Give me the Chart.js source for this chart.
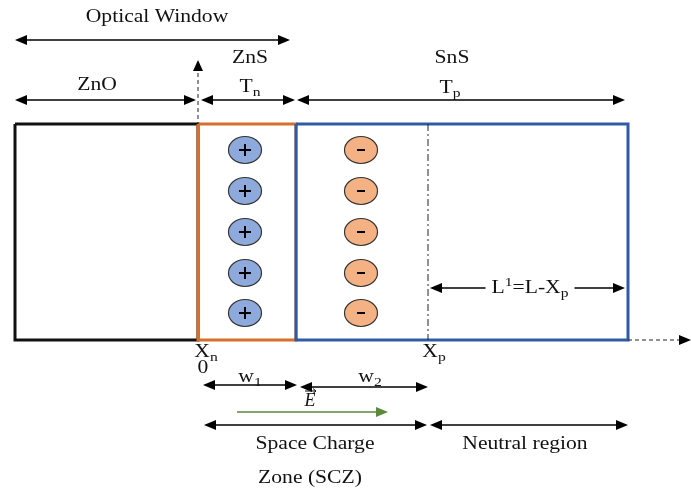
<!DOCTYPE html>
<html>
<head>
<meta charset="utf-8">
<script src="https://cdn.jsdelivr.net/npm/chart.js@4.4.0/dist/chart.umd.min.js"></script>
<style>
  html, body { margin: 0; padding: 0; background: #fff; }
  #wrap { width: 691px; height: 490px; }
</style>
</head>
<body>
<div id="wrap"><canvas id="diagram" width="691" height="490"></canvas></div>
<script>
// positions along the device, x = 0 at the ZnO/ZnS interface (Xn)
var layerNames = ["ZnO", "ZnS", "SnS"];
var layerEdges = [-183, 0, 98, 430];
var layerColors = ["#111111", "#d86f2a", "#2f5aa6"];
var xpPos = 230;
var deviceTop = 124;
var deviceBottom = 340;
var chargeRows = [150, 191, 232, 273, 313];
var plusX = 47;
var minusX = 163;

// dimension arrows: [from, to, y, heads, colour]
var arrows = [
  [-183, 92, 40, "both", "#000"],
  [-183, -2, 100, "both", "#000"],
  [3, 97, 100, "both", "#000"],
  [99, 427, 100, "both", "#000"],
  [232, 427, 288, "both", "#000"],
  [5, 99, 385, "both", "#000"],
  [102, 230, 387, "both", "#000"],
  [39, 190, 412, "end", "#5a8a3a"],
  [6, 229, 425, "both", "#000"],
  [232, 430, 425, "both", "#000"]
];

// labels: [x, y, parts]  parts = [text, subscript/superscript]
var labels = [
  [-41, 17, [["Optical Window"]]],
  [52, 58, [["ZnS"]]],
  [254, 58, [["SnS"]]],
  [-101, 85, [["ZnO"]]],
  [52, 87, [["T"], ["n", "sub"]]],
  [252, 88, [["T"], ["p", "sub"]]],
  [332, 288, [["L"], ["1", "sup"], ["=L-X"], ["p", "sub"]]],
  [8, 352, [["X"], ["n", "sub"]]],
  [5, 368, [["0"]]],
  [236, 352, [["X"], ["p", "sub"]]],
  [52, 377, [["w"], ["1", "sub"]]],
  [172, 377, [["w"], ["2", "sub"]]],
  [117, 444, [["Space Charge"]]],
  [327, 444, [["Neutral region"]]],
  [112, 478, [["Zone (SCZ)"]]]
];

var FONT = "Liberation Serif";
var STRETCH = 1.2;

function rect(x0, x1) {
  return [
    { x: x0, y: deviceTop }, { x: x1, y: deviceTop },
    { x: x1, y: deviceBottom }, { x: x0, y: deviceBottom },
    { x: x0, y: deviceTop }
  ];
}

function chargeIcon(fill, sign) {
  var c = document.createElement("canvas");
  c.width = 38; c.height = 32;
  var g = c.getContext("2d");
  g.beginPath();
  g.ellipse(19, 16, 16.5, 13.5, 0, 0, Math.PI * 2);
  g.fillStyle = fill; g.fill();
  g.lineWidth = 1.2; g.strokeStyle = "#333"; g.stroke();
  g.strokeStyle = "#000"; g.lineWidth = 2;
  g.beginPath();
  if (sign === "+") {
    g.moveTo(13, 16); g.lineTo(25, 16);
    g.moveTo(19, 10); g.lineTo(19, 22);
  } else {
    g.moveTo(15, 16); g.lineTo(23, 16);
  }
  g.stroke();
  return c;
}

var datasets = [];
for (var i = 0; i < layerNames.length; i++) {
  datasets.push({
    label: layerNames[i],
    data: rect(layerEdges[i], layerEdges[i + 1]),
    showLine: true, borderColor: layerColors[i], borderWidth: 3,
    pointRadius: 0, fill: false, order: 3 - i
  });
}
datasets.push({
  label: "Xp", data: [{ x: xpPos, y: deviceTop }, { x: xpPos, y: deviceBottom }],
  showLine: true, borderColor: "#222", borderWidth: 1, borderDash: [7, 3, 2, 3], pointRadius: 0
});
datasets.push({
  label: "axis", data: [{ x: layerEdges[3], y: deviceBottom }, { x: 488, y: deviceBottom }],
  showLine: true, borderColor: "#222", borderWidth: 1, borderDash: [4, 3], pointRadius: 0
});
datasets.push({
  label: "interface", data: [{ x: 0, y: 66 }, { x: 0, y: deviceTop }],
  showLine: true, borderColor: "#222", borderWidth: 1, borderDash: [4, 3], pointRadius: 0
});
datasets.push({
  label: "donors", data: chargeRows.map(function (y) { return { x: plusX, y: y }; }),
  pointStyle: chargeIcon("#8eaadc", "+"), pointRadius: 16
});
datasets.push({
  label: "acceptors", data: chargeRows.map(function (y) { return { x: minusX, y: y }; }),
  pointStyle: chargeIcon("#f4b183", "-"), pointRadius: 16
});

function head(ctx, x, y, dir, color) {
  ctx.fillStyle = color;
  ctx.beginPath();
  ctx.moveTo(x, y);
  ctx.lineTo(x - dir * 12, y - 5);
  ctx.lineTo(x - dir * 12, y + 5);
  ctx.closePath();
  ctx.fill();
}

function partsWidth(ctx, parts) {
  var w = 0;
  parts.forEach(function (p) {
    ctx.font = (p[1] ? 13 : 18) + "px '" + FONT + "'";
    w += ctx.measureText(p[0]).width;
  });
  return w;
}

var annotate = {
  id: "annotate",
  afterDatasetsDraw: function (chart) {
    var ctx = chart.ctx, sx = chart.scales.x, sy = chart.scales.y;
    ctx.save();
    arrows.forEach(function (a) {
      var x0 = sx.getPixelForValue(a[0]), x1 = sx.getPixelForValue(a[1]), y = sy.getPixelForValue(a[2]);
      ctx.strokeStyle = a[4]; ctx.lineWidth = 1.5;
      ctx.beginPath(); ctx.moveTo(x0 + (a[3] === "both" ? 5 : 0), y); ctx.lineTo(x1 - 5, y); ctx.stroke();
      head(ctx, x1, y, 1, a[4]);
      if (a[3] === "both") head(ctx, x0, y, -1, a[4]);
    });
    // arrow tips of the interface line and the position axis
    var ix = sx.getPixelForValue(0);
    ctx.fillStyle = "#000";
    ctx.beginPath(); ctx.moveTo(ix, sy.getPixelForValue(60)); ctx.lineTo(ix - 5, sy.getPixelForValue(71)); ctx.lineTo(ix + 5, sy.getPixelForValue(71)); ctx.fill();
    head(ctx, sx.getPixelForValue(493), sy.getPixelForValue(deviceBottom), 1, "#000");

    ctx.textBaseline = "middle";
    ctx.textAlign = "left";
    labels.forEach(function (l) {
      var x = sx.getPixelForValue(l[0]), y = sy.getPixelForValue(l[1]);
      var w = partsWidth(ctx, l[2]);
      if (l[2].length > 2) {
        ctx.fillStyle = "#fff";
        ctx.fillRect(x - w * STRETCH / 2 - 6, y - 10, w * STRETCH + 12, 20);
      }
      ctx.save();
      ctx.translate(x, y);
      ctx.scale(STRETCH, 1);
      var cx = -w / 2;
      l[2].forEach(function (p) {
        ctx.font = (p[1] ? 13 : 18) + "px '" + FONT + "'";
        ctx.fillStyle = "#111";
        var dy = p[1] === "sub" ? 6 : (p[1] === "sup" ? -5 : 0);
        ctx.fillText(p[0], cx, dy);
        cx += ctx.measureText(p[0]).width;
      });
      ctx.restore();
    });
    // field vector symbol
    var ex = sx.getPixelForValue(112), ey = sy.getPixelForValue(401);
    ctx.font = "italic 18px '" + FONT + "'";
    ctx.textAlign = "center";
    ctx.fillStyle = "#111";
    ctx.fillText("E", ex, ey);
    ctx.lineWidth = 1; ctx.strokeStyle = "#111";
    ctx.beginPath(); ctx.moveTo(ex - 5, ey - 10); ctx.lineTo(ex + 6, ey - 10); ctx.stroke();
    ctx.beginPath(); ctx.moveTo(ex + 3, ey - 12.5); ctx.lineTo(ex + 6, ey - 10); ctx.lineTo(ex + 3, ey - 7.5); ctx.stroke();
    ctx.restore();
  }
};

new Chart(document.getElementById("diagram"), {
  type: "scatter",
  data: { datasets: datasets },
  options: {
    responsive: false,
    animation: false,
    layout: { padding: 0, autoPadding: false },
    plugins: { legend: { display: false }, tooltip: { enabled: false } },
    scales: {
      x: { type: "linear", min: -198, max: 493, display: false },
      y: { type: "linear", min: 0, max: 490, reverse: true, display: false }
    }
  },
  plugins: [annotate]
});
</script>
</body>
</html>
